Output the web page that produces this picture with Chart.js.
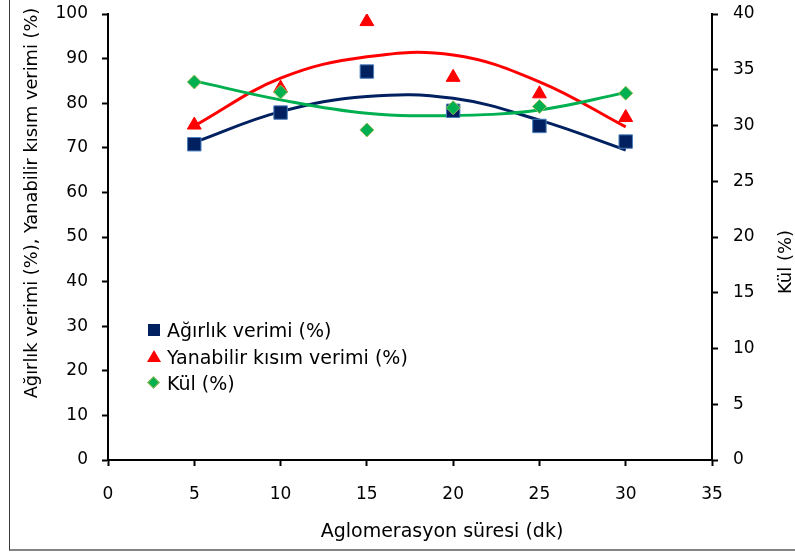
<!DOCTYPE html>
<html>
<head>
<meta charset="utf-8">
<script src="https://cdn.jsdelivr.net/npm/chart.js@4.4.1/dist/chart.umd.min.js"></script>
<style>
  html, body { margin: 0; padding: 0; background: #fff; }
  #wrap { position: relative; width: 795px; height: 555px; overflow: hidden; }
  #frame { position: absolute; left: 9px; top: -5px; width: 800px; height: 556px; box-sizing: border-box;
           border-left: 1px solid #3a3a3a; border-bottom: 2px solid #848484; }
  #chart { position: absolute; left: 0; top: 0; }
  #legend { position: absolute; left: 146px; top: 317px; font-family: "DejaVu Sans", sans-serif; font-size: 19px; color: #000; }
  .row { height: 26.5px; display: flex; align-items: center; white-space: nowrap; }
  .mk { width: 17px; height: 14px; position: relative; margin-right: 4px; }
  .sq { position: absolute; left: 2px; top: 1px; width: 12px; height: 12px; background: #002060; }
  .tri { position: absolute; left: 1px; top: 0; width: 0; height: 0; border-left: 7px solid transparent;
         border-right: 7px solid transparent; border-bottom: 12px solid #ff0000; }
  .dia { position: absolute; left: 3px; top: 2px; width: 9px; height: 9px; background: #00b050;
         box-sizing: border-box; border: 1px solid #9bbb59; transform: rotate(45deg); }
</style>
</head>
<body>
<div id="wrap">
  <div id="frame"></div>
  <canvas id="chart" width="795" height="555"></canvas>
  <div id="legend"></div>
</div>
<script>
// aglomerasyon süresi (dk)
var minutes = [5, 10, 15, 20, 25, 30];
// measured points
var agirlik = [70.8, 77.9, 87.1, 78.3, 74.9, 71.4];
var yanabilir = [75.1, 83.4, 98.3, 85.8, 82.1, 76.8];
var kul = [33.9, 33.0, 29.6, 31.6, 31.7, 32.9];
// trend lines
var trendAgirlik = [71.2, 78.1, 81.5, 81.1, 76.2, 69.5];
var trendYanabilir = [74.9, 85.6, 90.4, 90.8, 84.8, 74.7];
var trendKul = [34.0, 32.3, 31.1, 30.9, 31.4, 32.95];

var seriesNames = ['Ağırlık verimi (%)', 'Yanabilir kısım verimi (%)', 'Kül (%)'];
var xTitle = 'Aglomerasyon süresi (dk)';
var yTitle = 'Ağırlık verimi (%), Yanabilir kısım verimi (%)';
var y1Title = 'Kül (%)';

var FONT = '"DejaVu Sans", sans-serif';

function pts(vals) {
    var out = [];
    for (let i = 0; i < minutes.length; i++) {
        out.push({ x: minutes[i], y: vals[i] });
    }
    return out;
}

var axisTitles = {
    id: 'axisTitles',
    afterDraw: function (chart) {
        var ctx = chart.ctx;
        ctx.save();
        ctx.fillStyle = '#000';
        ctx.textAlign = 'center';
        ctx.textBaseline = 'middle';
        ctx.font = '19px ' + FONT;
        ctx.fillText(xTitle, 442, 532);

        ctx.font = '17.8px ' + FONT;
        ctx.translate(32.5, 203);
        ctx.rotate(-Math.PI / 2);
        ctx.fillText(yTitle, 0, 0);
        ctx.restore();

        ctx.save();
        ctx.fillStyle = '#000';
        ctx.textAlign = 'center';
        ctx.textBaseline = 'middle';
        ctx.font = '18px ' + FONT;
        ctx.translate(786, 262);
        ctx.rotate(-Math.PI / 2);
        ctx.fillText(y1Title, 0, 0);
        ctx.restore();
    }
};

var tickFont = { family: FONT, size: 17 };
var gridOpts = { drawOnChartArea: false, drawTicks: true, tickLength: 6, tickWidth: 2, tickColor: '#000', color: '#000' };

// keep the plot area where the picture has it
function fixY(w) {
    return function (s) {
        s.width = w;
        s.paddingTop = 0;
        s.paddingBottom = 0;
    };
}

var datos = {
    type: 'scatter',
    data: {
        datasets: [
            { label: seriesNames[0], data: pts(agirlik), yAxisID: 'y', order: 2,
              pointStyle: 'rect', pointRadius: 9.5, pointHoverRadius: 9.5,
              backgroundColor: '#002060', borderColor: '#4a7ebb', pointBorderWidth: 1 },
            { label: seriesNames[1], data: pts(yanabilir), yAxisID: 'y', order: 1,
              pointStyle: 'triangle', pointRadius: 8, pointHoverRadius: 8,
              backgroundColor: '#ff0000', borderColor: '#ff0000', pointBorderWidth: 1 },
            { label: seriesNames[2], data: pts(kul), yAxisID: 'y1', order: 0,
              pointStyle: 'rectRot', pointRadius: 7, pointHoverRadius: 7,
              backgroundColor: '#00b050', borderColor: '#9bbb59', pointBorderWidth: 1 },
            { label: 'trend1', data: pts(trendAgirlik), yAxisID: 'y', order: 5, showLine: true,
              pointRadius: 0, borderColor: '#002060', borderWidth: 3, tension: 0.4 },
            { label: 'trend2', data: pts(trendYanabilir), yAxisID: 'y', order: 4, showLine: true,
              pointRadius: 0, borderColor: '#ff0000', borderWidth: 3, tension: 0.4 },
            { label: 'trend3', data: pts(trendKul), yAxisID: 'y1', order: 3, showLine: true,
              pointRadius: 0, borderColor: '#00b050', borderWidth: 3, tension: 0.4 }
        ]
    },
    options: {
        responsive: false,
        animation: false,
        layout: { padding: { top: 14, left: 0, right: 0, bottom: 0 } },
        plugins: { legend: { display: false }, tooltip: { enabled: false } },
        scales: {
            x: {
                type: 'linear', min: 0, max: 35,
                ticks: { stepSize: 5, color: '#000', font: tickFont, padding: 18 },
                grid: gridOpts,
                border: { color: '#000', width: 2 },
                afterFit: function (s) { s.height = 95; }
            },
            y: {
                type: 'linear', position: 'left', min: 0, max: 100,
                ticks: { stepSize: 10, color: '#000', font: tickFont, padding: 14 },
                grid: gridOpts,
                border: { color: '#000', width: 2 },
                afterFit: fixY(108)
            },
            y1: {
                type: 'linear', position: 'right', min: 0, max: 40,
                ticks: { stepSize: 5, color: '#000', font: tickFont, padding: 15 },
                grid: gridOpts,
                border: { color: '#000', width: 2 },
                afterFit: fixY(83)
            }
        }
    },
    plugins: [axisTitles]
};

var canvas = document.getElementById('chart').getContext('2d');
window.grafico = new Chart(canvas, datos);

// legend in the plot area
var marks = ['sq', 'tri', 'dia'];
var legend = document.getElementById('legend');
for (let i = 0; i < seriesNames.length; i++) {
    var row = document.createElement('div');
    row.className = 'row';
    row.innerHTML = '<span class="mk"><span class="' + marks[i] + '"></span></span>';
    row.appendChild(document.createTextNode(seriesNames[i]));
    legend.appendChild(row);
}
</script>
</body>
</html>
